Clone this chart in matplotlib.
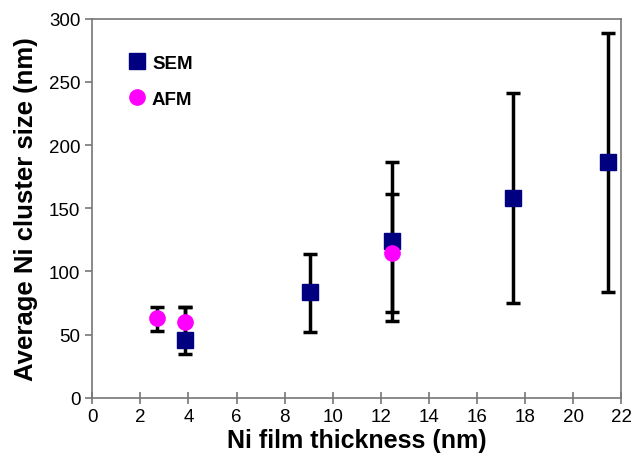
import numpy as np
import matplotlib.pyplot as plt

plt.rcParams['font.family'] = ['Liberation Sans', 'DejaVu Sans']

# SEM data
sem_x = [3.85, 9.05, 12.45, 17.5, 21.45]
sem_y = [46, 84, 124, 158, 187]
sem_lo = [35, 52, 61, 75, 84]
sem_hi = [72, 114, 187, 241, 289]

# AFM data
afm_x = [2.7, 3.85, 12.45]
afm_y = [63, 60, 115]
afm_lo = [53, 50, 68]
afm_hi = [72, 72, 161]

fig = plt.figure(figsize=(6.36, 4.6), dpi=100)
ax = fig.add_axes([0.145, 0.133, 0.832, 0.824])

sem_err = [np.array(sem_y) - np.array(sem_lo), np.array(sem_hi) - np.array(sem_y)]
afm_err = [np.array(afm_y) - np.array(afm_lo), np.array(afm_hi) - np.array(afm_y)]

ax.errorbar(sem_x, sem_y, yerr=sem_err, fmt='none', ecolor='black',
            elinewidth=2.5, capsize=5, capthick=2.5, zorder=2)
ax.errorbar(afm_x, afm_y, yerr=afm_err, fmt='none', ecolor='black',
            elinewidth=2.5, capsize=5, capthick=2.5, zorder=2)
ax.plot(sem_x, sem_y, 's', color='#000080', markersize=12, linestyle='none',
        label='SEM', zorder=3)
ax.plot(afm_x, afm_y, 'o', color='#ff00ff', markersize=11, linestyle='none',
        label='AFM', zorder=4)

ax.set_xlim(0, 22)
ax.set_ylim(0, 300)
ax.set_xticks(range(0, 23, 2))
ax.set_yticks(range(0, 301, 50))
for s in ax.spines.values():
    s.set_color('#777777')
    s.set_linewidth(1.2)
ax.tick_params(axis='both', labelsize=13.5, color='#777777', width=1.2, length=5)
ax.tick_params(axis='x', direction='inout', length=8)

ax.set_xlabel('Ni film thickness (nm)', fontsize=18, fontweight='bold', labelpad=2)
ax.set_ylabel('Average Ni cluster size (nm)', fontsize=18.5, fontweight='bold', labelpad=8)

leg = ax.legend(loc='upper left', bbox_to_anchor=(0.035, 0.95), frameon=False,
                prop={'weight': 'bold', 'size': 13.5}, handletextpad=0.3,
                labelspacing=1.0, handlelength=1.0)

fig.savefig('out.png', dpi=100)
